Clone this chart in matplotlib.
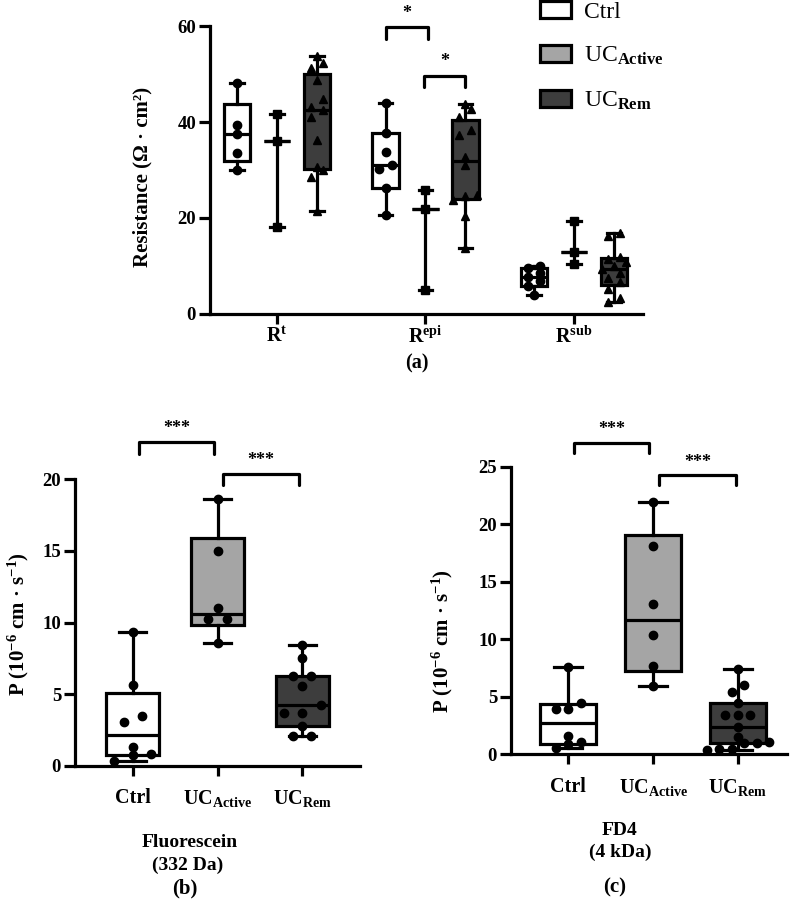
import numpy as np
import matplotlib
matplotlib.use('Agg')
import matplotlib.pyplot as plt
from matplotlib.patches import Patch

plt.rcParams['font.family'] = ['Liberation Serif', 'DejaVu Serif']
plt.rcParams['font.weight'] = 'bold'
plt.rcParams['mathtext.fontset'] = 'custom'
plt.rcParams['mathtext.rm'] = 'Liberation Serif'
plt.rcParams['mathtext.bf'] = 'Liberation Serif:bold'
plt.rcParams['mathtext.it'] = 'Liberation Serif:italic'

# ---------------- data ----------------
group_names = ['Ctrl', 'UC_Active', 'UC_Rem']
group_tick_labels = ['Ctrl', r'UC$_{\mathbf{Active}}$', r'UC$_{\mathbf{Rem}}$']
legend_labels = ['Ctrl', r'UC$_{\mathrm{Active}}$', r'UC$_{\mathrm{Rem}}$']
group_colors = ['#ffffff', '#a5a5a5', '#3d3d3d']

resist_categories = [r'R$^{\mathbf{t}}$', r'R$^{\mathbf{epi}}$', r'R$^{\mathbf{sub}}$']

rt_ctrl = [30.0, 33.6, 37.5, 39.3, 48.2]
rt_active = [18.1, 36.1, 41.6]
rt_rem = [21.5, 28.6, 29.9, 30.7, 36.3, 41.0, 42.5, 43.2, 44.7, 48.8, 51.2, 52.3, 53.7]
repi_ctrl = [20.6, 26.2, 30.3, 31.0, 33.8, 37.8, 43.9]
repi_active = [5.0, 21.9, 25.8]
repi_rem = [13.7, 20.4, 23.8, 24.5, 24.8, 31.0, 32.8, 37.3, 38.3, 41.1, 42.8, 43.75]
rsub_ctrl = [4.0, 5.8, 6.8, 7.8, 8.5, 9.6, 9.9]
rsub_active = [10.4, 13.0, 19.4]
rsub_rem = [2.6, 3.3, 5.3, 6.7, 7.5, 8.5, 9.3, 10.0, 10.8, 11.4, 11.9, 16.3, 16.8]

fluo_ctrl = [0.35, 0.75, 0.84, 1.3, 3.09, 3.5, 5.62, 9.32]
fluo_active = [8.55, 10.24, 10.24, 10.99, 15.0, 18.58]
fluo_rem = [2.09, 2.09, 2.8, 3.67, 3.67, 4.25, 5.6, 6.27, 6.27, 7.55, 8.43]

fd4_ctrl = [0.52, 0.9, 1.05, 1.62, 3.9, 3.9, 4.49, 7.61]
fd4_active = [5.96, 7.7, 10.34, 13.03, 18.1, 21.9]
fd4_rem = [0.4, 0.45, 0.5, 0.95, 1.0, 1.1, 1.48, 2.35, 3.41, 3.41, 3.41, 4.43, 5.44, 6.02, 7.38]

resist_data = [[rt_ctrl, rt_active, rt_rem],
               [repi_ctrl, repi_active, repi_rem],
               [rsub_ctrl, rsub_active, rsub_rem]]

# ---------------- helpers ----------------
LW = 2.3
TICK_FS = 13.5
XTICK_FS = 14.5
LABEL_FS = 15


def box_stats(vals):
    v = np.asarray(vals, dtype=float)
    med = float(np.median(v))
    if len(v) <= 3:
        q1 = q3 = med
    else:
        q1, q3 = np.percentile(v, [25, 75], method='weibull')
    return dict(med=med, q1=float(q1), q3=float(q3), whislo=float(v.min()),
                whishi=float(v.max()), fliers=[])


def swarm_offsets(ax, vals, diam_px, step_px):
    vals = np.asarray(vals, dtype=float)
    order = np.argsort(vals, kind='stable')
    t = ax.transData
    ppu_y = t.transform((0, 1))[1] - t.transform((0, 0))[1]
    ppu_x = t.transform((1, 0))[0] - t.transform((0, 0))[0]
    offs = np.zeros(len(vals))
    rows, cur = [], [order[0]]
    for idx in order[1:]:
        if (vals[idx] - vals[cur[0]]) * ppu_y < diam_px:
            cur.append(idx)
        else:
            rows.append(cur)
            cur = [idx]
    rows.append(cur)
    for r in rows:
        k = len(r)
        for j, idx in enumerate(r):
            offs[idx] = (j - (k - 1) / 2) * step_px / ppu_x
    return offs


def draw_group(ax, vals, pos, width, color, marker, ms, step=1.45):
    st = box_stats(vals)
    ax.bxp([st], positions=[pos], widths=[width], capwidths=[width * 0.5],
           patch_artist=True, showfliers=False, manage_ticks=False,
           boxprops=dict(facecolor=color, edgecolor='black', linewidth=LW),
           whiskerprops=dict(color='black', linewidth=LW),
           capprops=dict(color='black', linewidth=LW),
           medianprops=dict(color='black', linewidth=LW))
    offs = swarm_offsets(ax, vals, diam_px=ms * 1.39, step_px=ms * 1.39 * step)
    ax.plot(pos + offs, vals, ls='none', marker=marker, ms=ms, color='black',
            mec='black', zorder=6, clip_on=False)


def style_axes(ax, xpad):
    for s in ['top', 'right']:
        ax.spines[s].set_visible(False)
    for s in ['left', 'bottom']:
        ax.spines[s].set_linewidth(LW)
    ax.tick_params(axis='y', length=8, width=LW, labelsize=TICK_FS, pad=2)
    ax.tick_params(axis='x', length=7, width=LW, labelsize=XTICK_FS, pad=xpad)


def bracket(ax, x1, x2, y, h, text, ty, fs=13):
    ax.plot([x1, x1, x2, x2], [y - h, y, y, y - h], color='black', lw=2.3,
            clip_on=False, solid_joinstyle='round', solid_capstyle='round')
    ax.text((x1 + x2) / 2, ty, text, ha='center', va='center', fontsize=fs,
            fontweight='bold', clip_on=False)


W, H = 797, 905
fig = plt.figure(figsize=(W / 100, H / 100), dpi=100)


def axes_px(left, right, top, bottom):
    return fig.add_axes([left / W, 1 - bottom / H, (right - left) / W, (bottom - top) / H])


# ---------------- panel (a) ----------------
axa = axes_px(210, 643, 26, 314)
axa.set_xlim(-0.451, 2.465)
axa.set_ylim(0, 60)
style_axes(axa, 2)
axa.set_yticks([0, 20, 40, 60])
axa.set_xticks([0, 1, 2])
axa.set_xticklabels(resist_categories, fontsize=XTICK_FS)
markers_a = ['o', 's', '^']
for ci, cat in enumerate(resist_data):
    for gi, vals in enumerate(cat):
        draw_group(axa, vals, ci + (gi - 1) * 0.269, 0.18, group_colors[gi], markers_a[gi], 6)
axa.set_ylabel('Resistance (Ω · cm²)', fontsize=LABEL_FS, fontweight='bold')
axa.yaxis.set_label_coords(-0.132, 0.475)
bracket(axa, 0.734, 1.017, 59.7, 2.4, '*', 62.6)
bracket(axa, 0.99, 1.266, 49.6, 2.4, '*', 52.6)

fig.legend(handles=[Patch(facecolor=c, edgecolor='black', linewidth=LW) for c in group_colors],
           labels=legend_labels, loc='upper left', bbox_to_anchor=(540 / W, 1 - 1 / H),
           frameon=False, prop=dict(family='Liberation Serif', weight='normal', size=17),
           handlelength=1.3, handleheight=0.72, labelspacing=0.95, handletextpad=0.55,
           borderaxespad=0, borderpad=0)

fig.text(417 / W, 1 - 363 / H, '(a)', ha='center', va='center', fontsize=14.5, fontweight='bold')

# ---------------- panel (b) ----------------
axb = axes_px(75, 360, 479, 766)
axb.set_xlim(-0.68, 2.68)
axb.set_ylim(0, 20)
style_axes(axb, 9)
axb.set_yticks([0, 5, 10, 15, 20])
axb.set_xticks([0, 1, 2])
axb.set_xticklabels(group_tick_labels, fontsize=XTICK_FS)
for gi, vals in enumerate([fluo_ctrl, fluo_active, fluo_rem]):
    draw_group(axb, vals, gi, 0.63, group_colors[gi], 'o', 6, step=2.2)
axb.set_ylabel(r'P (10$^{\mathbf{-6}}$ cm · s$^{\mathbf{-1}}$)', fontsize=LABEL_FS, fontweight='bold')
axb.yaxis.set_label_coords(-0.155, 0.495)
bracket(axb, 0.08, 0.96, 22.56, 0.8, '***', 23.5)
bracket(axb, 1.07, 1.96, 20.35, 0.75, '***', 21.3)

fig.text(190 / W, 1 - 842 / H, 'Fluorescein', ha='center', va='center', fontsize=14, fontweight='bold')
fig.text(188 / W, 1 - 865 / H, '(332 Da)', ha='center', va='center', fontsize=14, fontweight='bold')
fig.text(185 / W, 1 - 888 / H, '(b)', ha='center', va='center', fontsize=15, fontweight='bold')

# ---------------- panel (c) ----------------
axc = axes_px(511, 787, 466.7, 754.3)
axc.set_xlim(-0.677, 2.58)
axc.set_ylim(0, 25)
style_axes(axc, 9)
axc.set_yticks([0, 5, 10, 15, 20, 25])
axc.set_xticks([0, 1, 2])
axc.set_xticklabels(group_tick_labels, fontsize=XTICK_FS)
for gi, vals in enumerate([fd4_ctrl, fd4_active, fd4_rem]):
    draw_group(axc, vals, gi, 0.66, group_colors[gi], 'o', 6, step=1.5)
axc.set_ylabel(r'P (10$^{\mathbf{-6}}$ cm · s$^{\mathbf{-1}}$)', fontsize=LABEL_FS, fontweight='bold')
axc.yaxis.set_label_coords(-0.203, 0.394)
bracket(axc, 0.07, 0.95, 27.1, 0.95, '***', 28.2)
bracket(axc, 1.07, 1.98, 24.27, 0.87, '***', 25.4)

fig.text(620 / W, 1 - 830 / H, 'FD4', ha='center', va='center', fontsize=14, fontweight='bold')
fig.text(620 / W, 1 - 852 / H, '(4 kDa)', ha='center', va='center', fontsize=14, fontweight='bold')
fig.text(615 / W, 1 - 887 / H, '(c)', ha='center', va='center', fontsize=15, fontweight='bold')

fig.savefig('out.png', dpi=100)
